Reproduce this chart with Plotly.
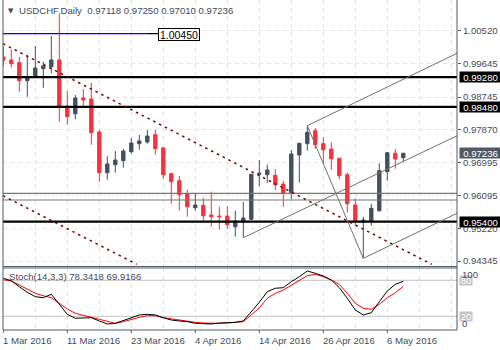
import datetime as dt
import plotly.graph_objects as go

# ---------------- data ----------------
dates = ["2016-03-01", "2016-03-02", "2016-03-03", "2016-03-04", "2016-03-07", "2016-03-08",
         "2016-03-09", "2016-03-10", "2016-03-11", "2016-03-14", "2016-03-15", "2016-03-16",
         "2016-03-17", "2016-03-18", "2016-03-21", "2016-03-22", "2016-03-23", "2016-03-24",
         "2016-03-25", "2016-03-28", "2016-03-29", "2016-03-30", "2016-03-31", "2016-04-01",
         "2016-04-04", "2016-04-05", "2016-04-06", "2016-04-07", "2016-04-08", "2016-04-11",
         "2016-04-12", "2016-04-13", "2016-04-14", "2016-04-15", "2016-04-18", "2016-04-19",
         "2016-04-20", "2016-04-21", "2016-04-22", "2016-04-25", "2016-04-26", "2016-04-27",
         "2016-04-28", "2016-04-29", "2016-05-02", "2016-05-03", "2016-05-04", "2016-05-05",
         "2016-05-06", "2016-05-09", "2016-05-10"]

opens = [0.99822, 0.99741, 0.99669, 0.99185, 0.99285, 0.99507, 0.99561, 0.99741, 0.98506, 0.98299,
         0.98721, 0.98694, 0.97808, 0.96715, 0.96930, 0.97038, 0.97279, 0.97494, 0.97540, 0.97736,
         0.97379, 0.96689, 0.96501, 0.96152, 0.95776, 0.95840, 0.95580, 0.95553, 0.95553, 0.95266,
         0.95392, 0.95464, 0.96673, 0.96662, 0.96646, 0.96412, 0.96179, 0.97191, 0.97494, 0.97843,
         0.97494, 0.97352, 0.97102, 0.96662, 0.95848, 0.95392, 0.95427, 0.95695, 0.96742, 0.97236,
         0.97118]
highs = [1.00098, 1.00028, 0.99822, 0.99875, 1.00117, 0.99695, 1.00385, 1.00949, 0.98909, 0.98801,
         0.98963, 0.99124, 0.97862, 0.97164, 0.97298, 0.97352, 0.97647, 0.97728, 0.97862, 0.97862,
         0.97405, 0.96715, 0.96627, 0.96259, 0.96152, 0.96044, 0.96205, 0.95803, 0.95821, 0.95695,
         0.95929, 0.96681, 0.97056, 0.96930, 0.96807, 0.96501, 0.97325, 0.97513, 0.97977, 0.97916,
         0.97666, 0.97532, 0.97110, 0.96715, 0.96028, 0.95534, 0.95875, 0.96968, 0.97271, 0.97352,
         0.97250]
lows = [0.99588, 0.99534, 0.98890, 0.98756, 0.99277, 0.98997, 0.99384, 0.98085, 0.98004, 0.98149,
        0.98471, 0.97467, 0.96466, 0.96528, 0.96715, 0.96850, 0.97226, 0.97333, 0.97494, 0.97199,
        0.96554, 0.95883, 0.95695, 0.95534, 0.95695, 0.95427, 0.95266, 0.95185, 0.95212, 0.94997,
        0.94970, 0.95446, 0.96350, 0.96447, 0.96251, 0.95803, 0.96001, 0.96447, 0.97306, 0.97352,
        0.96968, 0.96788, 0.96538, 0.95642, 0.95311, 0.94417, 0.95293, 0.95669, 0.96501, 0.96823,
        0.97010]
closes = [0.99733, 0.99642, 0.99185, 0.99285, 0.99526, 0.99580, 0.99741, 0.98471, 0.98219, 0.98721,
          0.98667, 0.97789, 0.96715, 0.96949, 0.97056, 0.97298, 0.97513, 0.97567, 0.97701, 0.97360,
          0.96662, 0.96474, 0.96125, 0.95803, 0.95848, 0.95561, 0.95534, 0.95534, 0.95319, 0.95419,
          0.95499, 0.96675, 0.96699, 0.96788, 0.96393, 0.96162, 0.97218, 0.97505, 0.97800, 0.97467,
          0.97333, 0.97091, 0.96635, 0.95883, 0.95419, 0.95446, 0.95760, 0.96769, 0.97252, 0.97083,
          0.97236]

stoch_k = [83.3, 79.3, 69.3, 60.0, 52.7, 51.0, 56.7, 40.0, 23.3, 16.7, 17.7, 17.7, 12.2, 7.2, 8.3,
           12.7, 17.7, 22.2, 23.3, 22.2, 17.7, 13.8, 12.2, 11.0, 8.3, 7.2, 7.2, 8.8, 9.3, 10.0, 12.2,
           27.7, 43.3, 61.0, 66.7, 67.7, 77.7, 86.0, 95.5, 91.7, 87.2, 80.5, 67.7, 50.0, 30.5, 22.2,
           26.0, 44.3, 62.2, 73.3, 78.34]
stoch_d = [81.0, 78.8, 72.2, 65.5, 58.3, 54.3, 51.0, 41.7, 32.2, 25.0, 21.0, 18.3, 15.0, 11.0, 8.3,
           11.0, 15.0, 18.3, 21.0, 21.0, 17.7, 15.5, 13.3, 11.0, 10.0, 8.8, 8.3, 8.3, 8.8, 10.0, 11.0,
           22.2, 34.3, 50.0, 58.3, 63.8, 72.2, 80.5, 87.7, 90.0, 86.0, 80.5, 73.3, 58.3, 41.7, 33.3,
           31.7, 40.0, 51.0, 59.3, 69.92]

price_ticks = [1.00520, 0.99645, 0.98745, 0.97870, 0.96995, 0.96095, 0.95220, 0.94345]
black_levels = [0.99280, 0.98480, 0.95400]
gray_levels = [0.96162, 0.95983]
blue_level = 1.00450
stoch_levels = [20, 80]

# trend lines: (x0, y0, x1, y1) in bar index / price
dotted_lines = [(-0.04, 1.00179, 53.55, 0.94256), (-0.04, 0.96098, 16.68, 0.94256)]
gray_lines = [(30, 0.94970, 56.72, 0.97706), (38, 0.97977, 56.72, 0.99921),
              (45, 0.94417, 56.72, 0.95626), (38, 0.97977, 45, 0.94417)]

title = "USDCHF,Daily  0.97118 0.97250 0.97010 0.97236"
stoch_title = "Stoch(14,3,3) 78.3418 69.9166"

# ---------------- styling ----------------
W, H = 500, 350
ML, MR, MT, MB = 3, 43, 0, 20
PW, PH = W - ML - MR, H - MT - MB
BULL = "#44505f"
BEAR = "#f5333f"
FRAME = "#505a66"
TXT = "#3f4c5e"
GRID = "#e4e4e4"
FONT = "Liberation Sans"

idx = list(range(len(dates)))


def px_x(x):
    return (x - ML) / PW


def px_y(y):
    return (H - MB - y) / PH


MAIN_BOT, STO_TOP, STO_BOT = 266.5, 268.0, 330.0
y_main_range = [0.954 - (MAIN_BOT - 221.7) / 3725, 0.954 + 221.7 / 3725]
y_sto_range = [20 + (316.3 - STO_BOT) / 0.6, 20 + (316.3 - STO_TOP) / 0.6]
x_range = [-0.0375, -0.0375 + PW / 8.0]

fig = go.Figure()

# level lines
for lv in black_levels:
    fig.add_trace(go.Scatter(x=[x_range[0], x_range[1]], y=[lv, lv], mode="lines",
                             line=dict(color="black", width=2.2), hoverinfo="skip"))
for lv in gray_levels:
    fig.add_trace(go.Scatter(x=[x_range[0], x_range[1]], y=[lv, lv], mode="lines",
                             line=dict(color="#777777", width=1.2), hoverinfo="skip"))
fig.add_trace(go.Scatter(x=[x_range[0], 17.9], y=[blue_level, blue_level], mode="lines",
                         line=dict(color="#0000ff", width=1.2), hoverinfo="skip"))
fig.add_trace(go.Scatter(x=[17.9, 19.4], y=[blue_level, blue_level], mode="lines",
                         line=dict(color="black", width=1.2), hoverinfo="skip"))
for (x0, y0, x1, y1) in dotted_lines:
    fig.add_trace(go.Scatter(x=[x0, x1], y=[y0, y1], mode="lines",
                             line=dict(color="#7a0000", width=1.5, dash="2.5px,4px"),
                             hoverinfo="skip"))
for (x0, y0, x1, y1) in gray_lines:
    fig.add_trace(go.Scatter(x=[x0, x1], y=[y0, y1], mode="lines",
                             line=dict(color="#707070", width=1), hoverinfo="skip"))

fig.add_trace(go.Candlestick(
    x=idx, open=opens, high=highs, low=lows, close=closes,
    increasing=dict(line=dict(color=BULL, width=1), fillcolor=BULL),
    decreasing=dict(line=dict(color=BEAR, width=1), fillcolor=BEAR),
    whiskerwidth=0, hoverinfo="skip", xaxis="x", yaxis="y"))

# stochastic
for lv in stoch_levels:
    fig.add_trace(go.Scatter(x=[x_range[0], x_range[1]], y=[lv, lv], mode="lines",
                             line=dict(color="#c0c0c0", width=1), hoverinfo="skip",
                             xaxis="x2", yaxis="y2"))
fig.add_trace(go.Scatter(x=idx, y=stoch_d, mode="lines", line=dict(color="#ff0000", width=1),
                         hoverinfo="skip", xaxis="x2", yaxis="y2"))
fig.add_trace(go.Scatter(x=idx, y=stoch_k, mode="lines", line=dict(color="black", width=1),
                         hoverinfo="skip", xaxis="x2", yaxis="y2"))

grid_vals = list(range(0, 57, 4))
fig.update_layout(
    width=W, height=H, margin=dict(l=ML, r=MR, t=MT, b=MB),
    paper_bgcolor="white", plot_bgcolor="white", showlegend=False, hovermode=False,
    boxgap=0.4,
    xaxis=dict(domain=[0, 1], range=x_range, anchor="y", tickvals=grid_vals,
               showticklabels=False, ticks="", showgrid=True, gridcolor=GRID,
               griddash="4px,4px", gridwidth=1, zeroline=False, showline=False,
               rangeslider=dict(visible=False), fixedrange=True),
    xaxis2=dict(domain=[0, 1], range=x_range, anchor="y2", matches="x", tickvals=grid_vals,
                showticklabels=False, ticks="", showgrid=True, gridcolor=GRID,
                griddash="4px,4px", gridwidth=1, zeroline=False, showline=False),
    yaxis=dict(domain=[px_y(MAIN_BOT), 1], range=y_main_range, anchor="x", side="right",
               tickvals=price_ticks, ticktext=[f"{p:.5f}" for p in price_ticks],
               ticks="outside", ticklen=3, tickcolor=FRAME,
               tickfont=dict(family=FONT, size=9.6, color=TXT),
               showgrid=True, gridcolor=GRID, griddash="4px,4px", zeroline=False,
               showline=False),
    yaxis2=dict(domain=[0, px_y(STO_TOP)], range=y_sto_range, anchor="x2", side="right",
                showticklabels=False, ticks="", showgrid=False, zeroline=False, showline=False),
)

# frame
frame = [
    (3, 0, 3, STO_BOT), (ML + PW, 0, ML + PW, STO_BOT),
    (3, MAIN_BOT, ML + PW, MAIN_BOT), (3, STO_TOP, ML + PW, STO_TOP),
    (3, STO_BOT, ML + PW, STO_BOT),
]
for (a, b, c, d) in frame:
    fig.add_shape(type="line", xref="paper", yref="paper", x0=px_x(a), y0=px_y(b),
                  x1=px_x(c), y1=px_y(d), line=dict(color=FRAME, width=1))
# stoch axis small ticks
for yy in (274, 280.3, 316.3, 323):
    pass

# date ticks & labels
for i in range(0, len(dates), 8):
    fig.add_shape(type="line", xref="x2", yref="paper", x0=i, x1=i, y0=px_y(STO_BOT),
                  y1=px_y(STO_BOT + 3), line=dict(color=FRAME, width=1))
    d = dt.datetime.strptime(dates[i], "%Y-%m-%d")
    fig.add_annotation(xref="x2", yref="paper", x=i, y=px_y(340), text=f"{d.day} {d:%b %Y}",
                       showarrow=False, xanchor="left", yanchor="middle", xshift=-2,
                       font=dict(family=FONT, size=9.6, color=TXT))


def ann(x, y, text, **kw):
    fig.add_annotation(xref="paper", yref="paper", x=px_x(x), y=px_y(y), text=text,
                       showarrow=False, **kw)


# title
ann(6, 11, "▼", xanchor="left", yanchor="middle", font=dict(family="DejaVu Sans", size=7, color=TXT))
ann(17, 11, title, xanchor="left", yanchor="middle", font=dict(family=FONT, size=9.6, color=TXT))
ann(7, 276, stoch_title, xanchor="left", yanchor="middle",
    font=dict(family=FONT, size=9.6, color=TXT))

# blue level label
ann(158.3, 34.5, f"{blue_level:.5f}", xanchor="left", yanchor="middle",
    font=dict(family=FONT, size=10.5, color="black"), bgcolor="white",
    bordercolor="black", borderwidth=1, borderpad=0, width=40, height=11)

# axis boxes
for lv in black_levels:
    yy = 221.7 - (lv - 0.954) * 3725
    ann(458.7, yy, f"{lv:.5f}", xanchor="left", yanchor="middle",
        font=dict(family=FONT, size=9.6, color="white"), bgcolor="black",
        borderpad=0, width=41, height=10)
last_close = closes[-1]
ann(458.7, 221.7 - (last_close - 0.954) * 3725, f"{last_close:.5f}", xanchor="left",
    yanchor="middle", font=dict(family=FONT, size=9.6, color="white"), bgcolor="#505a66",
    borderpad=0, width=41, height=10)

# stoch axis labels
for lv in stoch_levels:
    yy = 316.3 - (lv - 20) * 0.6
    ann(459, yy, str(lv), xanchor="left", yanchor="middle",
        font=dict(family=FONT, size=9.6, color="white"), bgcolor="#c4c4c4",
        borderpad=0, width=12, height=9)
ann(460, 274, "100", xanchor="left", yanchor="middle", font=dict(family=FONT, size=9.6, color=TXT))
ann(460, 323.5, "0", xanchor="left", yanchor="middle", font=dict(family=FONT, size=9.6, color=TXT))

fig.write_html("out.html")
